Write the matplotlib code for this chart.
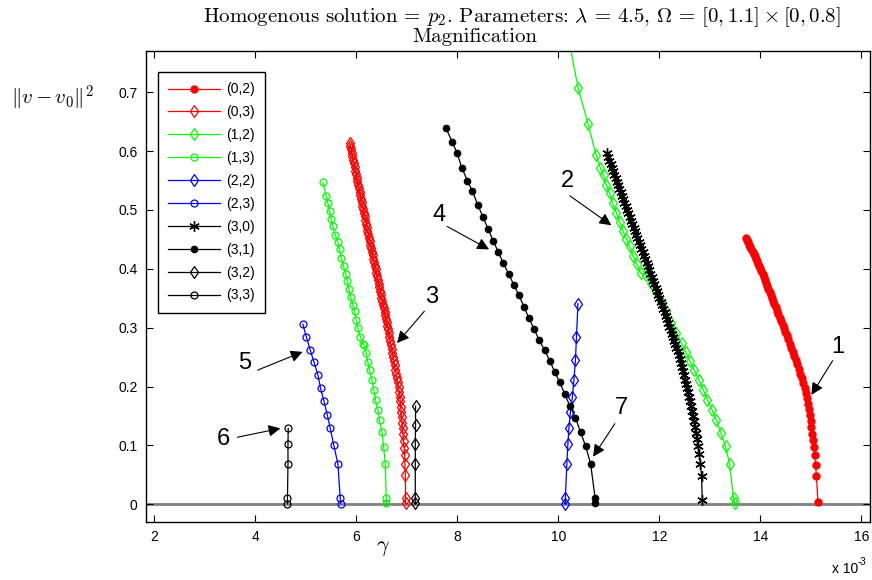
"""
Continuation branches near the homogeneous solution p2 (magnified view).
"""

import matplotlib
matplotlib.use("Agg")
import matplotlib.pyplot as plt
from matplotlib.ticker import FormatStrFormatter

# (0,2) red dots
g02 = [15.140, 15.110, 15.092, 15.074, 15.058, 15.043, 15.028, 15.012, 14.995,
       14.978, 14.960, 14.942, 14.923, 14.903, 14.880, 14.852, 14.823, 14.793,
       14.762, 14.730, 14.701, 14.672, 14.642, 14.612, 14.582, 14.551, 14.520,
       14.493, 14.466, 14.439, 14.412, 14.384, 14.357, 14.330, 14.302, 14.275,
       14.252, 14.229, 14.206, 14.183, 14.160, 14.137, 14.114, 14.091, 14.068,
       14.045, 14.022, 13.999, 13.977, 13.955, 13.933, 13.911, 13.889, 13.867,
       13.845, 13.822, 13.799, 13.777, 13.755, 13.732, 13.710]
n02 = [0.004, 0.048, 0.066, 0.083, 0.097, 0.109, 0.120, 0.131, 0.142,
       0.152, 0.162, 0.171, 0.180, 0.189, 0.198, 0.206, 0.214, 0.222,
       0.230, 0.238, 0.245, 0.252, 0.259, 0.266, 0.273, 0.280, 0.287,
       0.293, 0.299, 0.305, 0.311, 0.317, 0.323, 0.329, 0.335, 0.341,
       0.346, 0.351, 0.356, 0.361, 0.366, 0.371, 0.376, 0.381, 0.386,
       0.391, 0.396, 0.401, 0.405, 0.409, 0.413, 0.417, 0.421, 0.425,
       0.429, 0.433, 0.437, 0.441, 0.445, 0.449, 0.453]

# (0,3) red diamonds
g03 = [6.980, 6.978, 6.972, 6.965, 6.958, 6.948, 6.937, 6.925, 6.917, 6.907,
       6.899, 6.890, 6.882, 6.873, 6.866, 6.857, 6.840, 6.822, 6.805, 6.790,
       6.775, 6.760, 6.745, 6.730, 6.715, 6.700, 6.685, 6.670, 6.655, 6.642,
       6.629, 6.616, 6.603, 6.590, 6.576, 6.561, 6.546, 6.531, 6.516, 6.501,
       6.487, 6.472, 6.457, 6.442, 6.428, 6.413, 6.398, 6.384, 6.369, 6.354,
       6.339, 6.325, 6.310, 6.295, 6.281, 6.267, 6.253, 6.238, 6.224, 6.210,
       6.196, 6.181, 6.167, 6.153, 6.138, 6.124, 6.110, 6.095, 6.081, 6.067,
       6.053, 6.038, 6.024, 6.010, 5.995, 5.981, 5.967, 5.952, 5.938, 5.924,
       5.910, 5.896, 5.884, 5.872]
n03 = [0.002, 0.010, 0.049, 0.069, 0.083, 0.096, 0.108, 0.119, 0.129, 0.139,
       0.148, 0.157, 0.166, 0.175, 0.183, 0.191, 0.199, 0.207, 0.215, 0.222,
       0.229, 0.236, 0.243, 0.250, 0.257, 0.264, 0.271, 0.278, 0.285, 0.291,
       0.297, 0.303, 0.309, 0.315, 0.321, 0.327, 0.333, 0.339, 0.345, 0.351,
       0.357, 0.363, 0.369, 0.375, 0.381, 0.387, 0.393, 0.399, 0.405, 0.411,
       0.417, 0.423, 0.429, 0.435, 0.441, 0.447, 0.453, 0.459, 0.465, 0.471,
       0.477, 0.483, 0.489, 0.495, 0.501, 0.507, 0.513, 0.519, 0.525, 0.531,
       0.537, 0.543, 0.549, 0.555, 0.561, 0.567, 0.573, 0.579, 0.585, 0.591,
       0.597, 0.603, 0.608, 0.613]

# (1,2) green diamonds
g12 = [13.49, 13.47, 13.39, 13.31, 13.22, 13.13, 13.04, 12.95, 12.87, 12.78,
       12.69, 12.60, 12.52, 12.44, 12.34, 12.24, 12.14, 12.04, 11.94, 11.84,
       11.74, 11.63, 11.55, 11.48, 11.41, 11.35, 11.28, 11.22, 11.15, 11.08,
       11.02, 10.95, 10.90, 10.83, 10.75, 10.59, 10.39, 10.12]
n12 = [0.002, 0.010, 0.069, 0.099, 0.121, 0.143, 0.161, 0.178, 0.195, 0.212,
       0.228, 0.244, 0.259, 0.274, 0.291, 0.308, 0.328, 0.345, 0.362, 0.376,
       0.390, 0.393, 0.409, 0.422, 0.438, 0.451, 0.464, 0.479, 0.495, 0.511,
       0.528, 0.543, 0.559, 0.572, 0.593, 0.646, 0.708, 0.830]

# (1,3) green circles
g13 = [6.60, 6.596, 6.576, 6.543, 6.51, 6.463, 6.43, 6.384, 6.35, 6.31,
       6.265, 6.23, 6.20, 6.153, 6.133, 6.081, 6.034, 6.002, 5.968, 5.935,
       5.89, 5.856, 5.824, 5.79, 5.75, 5.705, 5.671, 5.638, 5.586, 5.54,
       5.507, 5.473, 5.44, 5.408, 5.34]
n13 = [0.002, 0.010, 0.069, 0.098, 0.123, 0.143, 0.160, 0.177, 0.194, 0.212,
       0.228, 0.242, 0.257, 0.271, 0.273, 0.285, 0.299, 0.313, 0.328, 0.339,
       0.353, 0.366, 0.379, 0.392, 0.404, 0.419, 0.433, 0.445, 0.458, 0.472,
       0.484, 0.498, 0.511, 0.523, 0.547]

# (2,2) blue diamonds
g22 = [10.14, 10.14, 10.17, 10.19, 10.21, 10.24, 10.28, 10.31, 10.34, 10.36,
       10.39]
n22 = [0.001, 0.010, 0.069, 0.102, 0.129, 0.156, 0.183, 0.212, 0.245, 0.284,
       0.341]

# (2,3) blue circles
g23 = [5.69, 5.685, 5.638, 5.558, 5.487, 5.428, 5.36, 5.295, 5.242, 5.163,
       5.091, 5.012, 4.945]
n23 = [0.001, 0.010, 0.069, 0.100, 0.129, 0.152, 0.176, 0.197, 0.220, 0.242,
       0.262, 0.285, 0.306]

# (3,0) black asterisks
g30 = [12.850, 12.835, 12.815, 12.790, 12.765, 12.745, 12.720, 12.700, 12.680,
       12.660, 12.640, 12.620, 12.600, 12.580, 12.560, 12.545, 12.525, 12.506,
       12.487, 12.468, 12.449, 12.430, 12.411, 12.390, 12.361, 12.338, 12.315,
       12.292, 12.269, 12.246, 12.222, 12.199, 12.176, 12.153, 12.130, 12.104,
       12.079, 12.053, 12.028, 12.002, 11.977, 11.951, 11.926, 11.900, 11.875,
       11.849, 11.824, 11.798, 11.773, 11.747, 11.721, 11.695, 11.670, 11.644,
       11.618, 11.592, 11.566, 11.541, 11.515, 11.489, 11.463, 11.437, 11.412,
       11.386, 11.360, 11.335, 11.310, 11.285, 11.260, 11.235, 11.210, 11.185,
       11.160, 11.135, 11.110, 11.085, 11.060, 11.035, 11.010, 10.985, 10.960]
n30 = [0.007, 0.048, 0.068, 0.085, 0.099, 0.111, 0.122, 0.132, 0.141,
       0.150, 0.159, 0.167, 0.175, 0.183, 0.191, 0.198, 0.205, 0.212,
       0.219, 0.226, 0.233, 0.240, 0.247, 0.254, 0.260, 0.266, 0.272,
       0.278, 0.284, 0.290, 0.296, 0.302, 0.308, 0.314, 0.320, 0.326,
       0.332, 0.338, 0.344, 0.350, 0.356, 0.362, 0.368, 0.374, 0.380,
       0.386, 0.392, 0.398, 0.404, 0.410, 0.416, 0.422, 0.428, 0.434,
       0.440, 0.446, 0.452, 0.458, 0.464, 0.470, 0.476, 0.482, 0.488,
       0.494, 0.500, 0.506, 0.512, 0.518, 0.524, 0.530, 0.536, 0.542,
       0.548, 0.554, 0.560, 0.566, 0.572, 0.578, 0.584, 0.590, 0.596]

# (3,1) black dots
g31 = [10.73, 10.73, 10.64, 10.54, 10.44, 10.34, 10.23, 10.13, 10.03, 9.93,
       9.83, 9.73, 9.62, 9.52, 9.42, 9.32, 9.22, 9.12, 9.02, 8.91,
       8.81, 8.71, 8.61, 8.51, 8.41, 8.30, 8.20, 8.09, 8.00, 7.90,
       7.77]
n31 = [0.003, 0.010, 0.069, 0.099, 0.123, 0.147, 0.167, 0.187, 0.207, 0.225,
       0.244, 0.262, 0.279, 0.298, 0.316, 0.336, 0.355, 0.373, 0.391, 0.410,
       0.429, 0.448, 0.468, 0.488, 0.508, 0.532, 0.550, 0.572, 0.596, 0.616,
       0.640]

# (3,2) black diamonds
g32 = [7.17, 7.17, 7.17, 7.17, 7.175, 7.175]
n32 = [0.002, 0.011, 0.069, 0.102, 0.135, 0.167]

# (3,3) black circles
g33 = [4.64, 4.64, 4.65, 4.65, 4.655]
n33 = [0.001, 0.010, 0.069, 0.102, 0.129]

# numbered arrows: label, arrow head, arrow tail, label position
ann_labels = ["1", "2", "3", "4", "5", "6", "7"]
ann_head = [(15.01, 0.186), (11.05, 0.474), (6.81, 0.274), (8.63, 0.433),
            (4.94, 0.259), (4.50, 0.129), (10.69, 0.081)]
ann_tail = [(15.43, 0.244), (10.23, 0.524), (7.35, 0.328), (7.80, 0.472),
            (4.05, 0.228), (3.65, 0.114), (11.12, 0.137)]
ann_text = [(15.54, 0.268), (10.19, 0.549), (7.49, 0.353), (7.65, 0.492),
            (3.79, 0.240), (3.37, 0.111), (11.25, 0.163)]

plt.rcParams['font.family'] = ['Liberation Sans', 'DejaVu Sans']
plt.rcParams['mathtext.fontset'] = 'cm'

fig = plt.figure(figsize=(8.72, 5.8), dpi=100)
ax = fig.add_axes([146 / 872, 58 / 580, 724 / 872, 471 / 580])

ax.axhline(0, color=(0.5, 0.5, 0.5), lw=2, zorder=1)

ax.plot(g02, n02, '-', color='r', lw=0.9, marker='o', ms=5, mfc='r', mec='r', label='(0,2)')
ax.plot(g03, n03, '-', color='r', lw=0.9, marker='d', ms=6, mfc='none', mec='r', mew=0.9, label='(0,3)')
ax.plot(g12, n12, '-', color=(0, 1, 0), lw=0.9, marker='d', ms=6, mfc='none', mew=0.9, label='(1,2)')
ax.plot(g13, n13, '-', color=(0, 1, 0), lw=0.9, marker='o', ms=5, mfc='none', mew=0.9, label='(1,3)')
ax.plot(g22, n22, '-', color='b', lw=0.9, marker='d', ms=6, mfc='none', mew=0.9, label='(2,2)')
ax.plot(g23, n23, '-', color='b', lw=0.9, marker='o', ms=5, mfc='none', mew=0.9, label='(2,3)')
ax.plot(g30, n30, '-', color='k', lw=0.9, marker=(6, 2, 0), ms=7.5, mew=1.0, label='(3,0)')
ax.plot(g31, n31, '-', color='k', lw=0.9, marker='o', ms=4.5, mfc='k', label='(3,1)')
ax.plot(g32, n32, '-', color='k', lw=0.9, marker='d', ms=6, mfc='none', mew=0.9, label='(3,2)')
ax.plot(g33, n33, '-', color='k', lw=0.9, marker='o', ms=5, mfc='none', mew=0.9, label='(3,3)')

for lab, head, tail, pos in zip(ann_labels, ann_head, ann_tail, ann_text):
    ax.annotate('', xy=head, xytext=tail,
                arrowprops=dict(arrowstyle='-|>', color='k', lw=0.8,
                                mutation_scale=18, shrinkA=0, shrinkB=0))
    ax.text(pos[0], pos[1], lab, fontsize=17, ha='center', va='center')

ax.set_xlim(1.84, 16.17)
ax.set_ylim(-0.03, 0.77)
ax.set_xticks(range(2, 17, 2))
ax.set_yticks([0, 0.1, 0.2, 0.3, 0.4, 0.5, 0.6, 0.7])
ax.xaxis.set_major_formatter(FormatStrFormatter('%g'))
ax.yaxis.set_major_formatter(FormatStrFormatter('%g'))
ax.tick_params(direction='in', top=True, right=True, length=5, width=0.8,
               labelsize=10, pad=6)
for sp in ax.spines.values():
    sp.set_linewidth(1.0)

ax.legend(loc='upper left', bbox_to_anchor=(158 / 872, 1 - 72 / 580),
          bbox_transform=fig.transFigure, borderaxespad=0, fontsize=10,
          labelspacing=0.64, handlelength=3.7, handletextpad=0.45,
          borderpad=0.75, fancybox=False, framealpha=1, edgecolor='k')

fig.text(522 / 872, 1 - 17 / 580,
         r'Homogenous solution = $p_2$. Parameters: $\lambda$ = 4.5, '
         r'$\Omega$ = $[0, 1.1] \times [0, 0.8]$',
         fontsize=15, family='cmr10', ha='center', va='center')
fig.text(475 / 872, 1 - 37 / 580, 'Magnification',
         fontsize=15, family='cmr10', ha='center', va='center')
fig.text(52 / 872, 1 - 98 / 580, r'$\|v - v_0\|^2$', fontsize=15,
         ha='center', va='center')
fig.text(383 / 872, 1 - 548 / 580, r'$\gamma$', fontsize=16,
         ha='center', va='center')
fig.text(858 / 872, 1 - 569 / 580, 'x 10', fontsize=10, ha='right', va='center')
fig.text(858 / 872, 1 - 562 / 580, '-3', fontsize=7, ha='left', va='center')

plt.savefig('out.png', dpi=100)
